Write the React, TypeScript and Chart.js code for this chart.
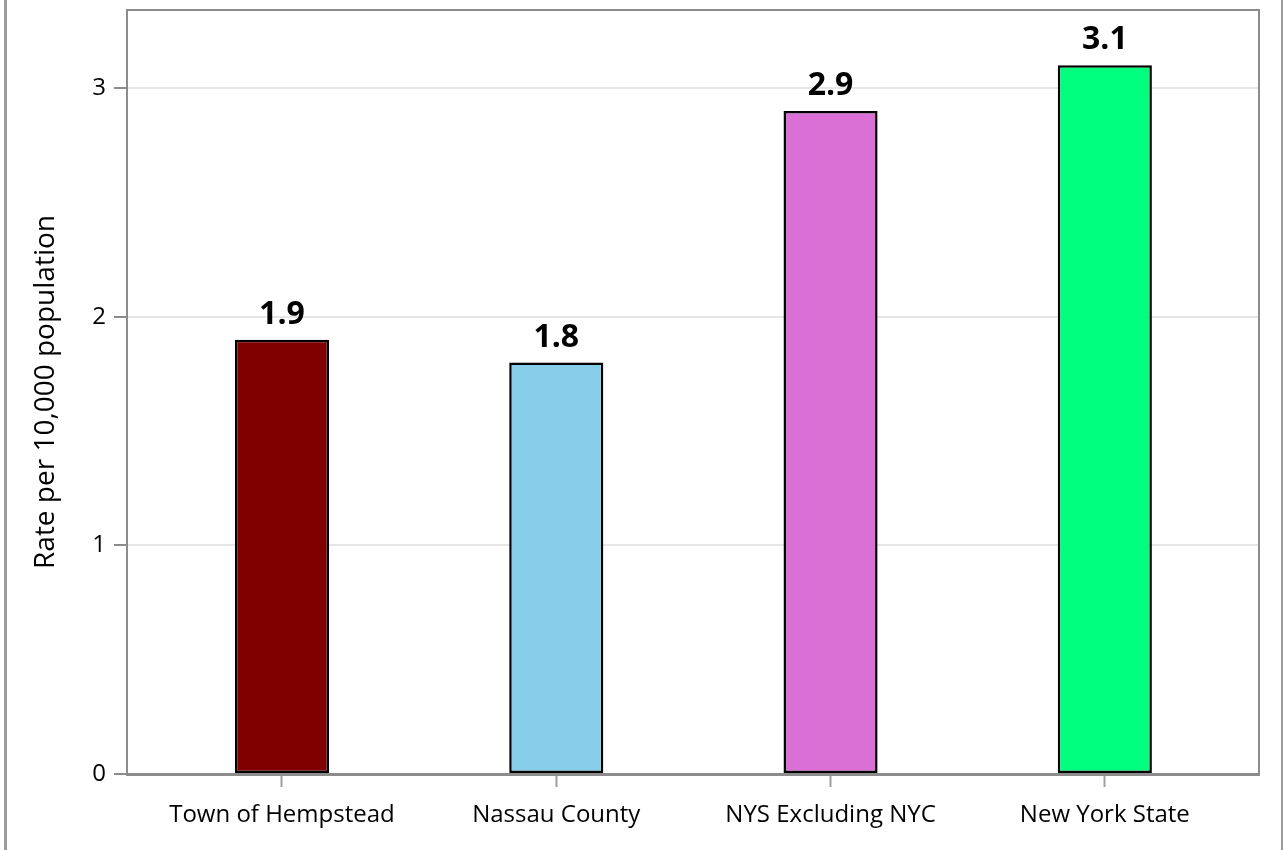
import React, { useEffect, useRef } from "react";
import { Chart, registerables } from "chart.js";

Chart.register(...registerables);

const categories = ["Town of Hempstead", "Nassau County", "NYS Excluding NYC", "New York State"];
const rates = [1.9, 1.8, 2.9, 3.1];
const barColors = ["#800000", "#87CEEB", "#DA70D6", "#00FF7F"];
const yTicks = [0, 1, 2, 3];
const yTitle = "Rate per 10,000 population";

const FONT = "'Open Sans', 'Noto Sans', sans-serif";
const FRAME = "#8c8c8c";

const frameAndLabels = {
  id: "frameAndLabels",
  afterDatasetsDraw(chart: any) {
    const { ctx, chartArea } = chart;
    ctx.save();
    ctx.strokeStyle = FRAME;
    ctx.lineWidth = 2;
    ctx.beginPath();
    ctx.moveTo(chartArea.left, chartArea.top);
    ctx.lineTo(chartArea.right, chartArea.top);
    ctx.lineTo(chartArea.right, chartArea.bottom);
    ctx.stroke();
    const meta = chart.getDatasetMeta(0);
    ctx.fillStyle = "#000";
    ctx.font = `bold 32px ${FONT}`;
    ctx.textAlign = "center";
    ctx.textBaseline = "alphabetic";
    meta.data.forEach((bar: any, i: number) => {
      ctx.fillText(rates[i].toFixed(1), bar.x, bar.y - 16);
    });
    ctx.restore();
  },
};

export default function App() {
  const ref = useRef<HTMLCanvasElement | null>(null);
  useEffect(() => {
    if (!ref.current) return;
    const chart = new Chart(ref.current, {
      type: "bar",
      data: {
        datasets: [
          {
            data: rates.map((v, i) => ({ x: i, y: v })),
            backgroundColor: barColors,
            borderColor: "#000",
            borderWidth: 2.5,
            borderSkipped: false,
            categoryPercentage: 1,
            barPercentage: 0.343,
          },
        ],
      },
      options: {
        animation: false,
        responsive: false,
        devicePixelRatio: 1,
        layout: { padding: { top: 10, right: 24, left: 0, bottom: 0 } },
        plugins: { legend: { display: false }, tooltip: { enabled: false } },
        scales: {
          x: {
            type: "linear",
            offset: false,
            min: -0.565,
            max: 3.562,
            afterFit: (s: any) => {
              s.height = 76;
              s.paddingLeft = 0;
              s.paddingRight = 0;
            },
            afterBuildTicks: (s: any) => {
              s.ticks = categories.map((_, i) => ({ value: i }));
            },
            grid: {
              offset: false,
              drawOnChartArea: false,
              drawTicks: true,
              tickLength: 13,
              tickColor: "#a0a0a0",
              tickWidth: 2,
            },
            border: { display: true, color: FRAME, width: 3 },
            ticks: {
              callback: (v: any) => categories[v as number] ?? "",
              color: "#000",
              font: { family: FONT, size: 24 },
              padding: 14,
              maxRotation: 0,
              autoSkip: false,
            },
          },
          y: {
            min: 0,
            max: 3.342,
            afterFit: (s: any) => {
              s.width = 127;
              s.paddingTop = 0;
              s.paddingBottom = 0;
            },
            afterBuildTicks: (s: any) => {
              s.ticks = yTicks.map((v) => ({ value: v }));
            },
            grid: {
              color: (c: any) => (c.tick && c.tick.value === 0 ? "rgba(0,0,0,0)" : "#e6e6e6"),
              lineWidth: 2,
              tickLength: 13,
              tickColor: FRAME,
              tickWidth: 2,
            },
            border: { display: true, color: FRAME, width: 2 },
            ticks: {
              color: "#000",
              font: { family: FONT, size: 24 },
              padding: 8,
              callback: (v: any) => String(v),
            },
            title: {
              display: true,
              text: yTitle,
              color: "#000",
              font: { family: FONT, size: 28 },
              padding: { top: 29, bottom: 0 },
            },
          },
        },
      },
      plugins: [frameAndLabels],
    });
    return () => chart.destroy();
  }, []);

  return (
    <div style={{ position: "fixed", left: 0, top: 0, width: 1283, height: 850, background: "#fff" }}>
      <canvas ref={ref} width={1283} height={850} style={{ position: "absolute", left: 0, top: 0, width: 1283, height: 850 }} />
      <div style={{ position: "absolute", left: 4, top: 0, width: 3, height: 850, background: "#9c9c9c" }} />
      <div style={{ position: "absolute", left: 1281, top: 0, width: 2, height: 850, background: "#9c9c9c" }} />
    </div>
  );
}
